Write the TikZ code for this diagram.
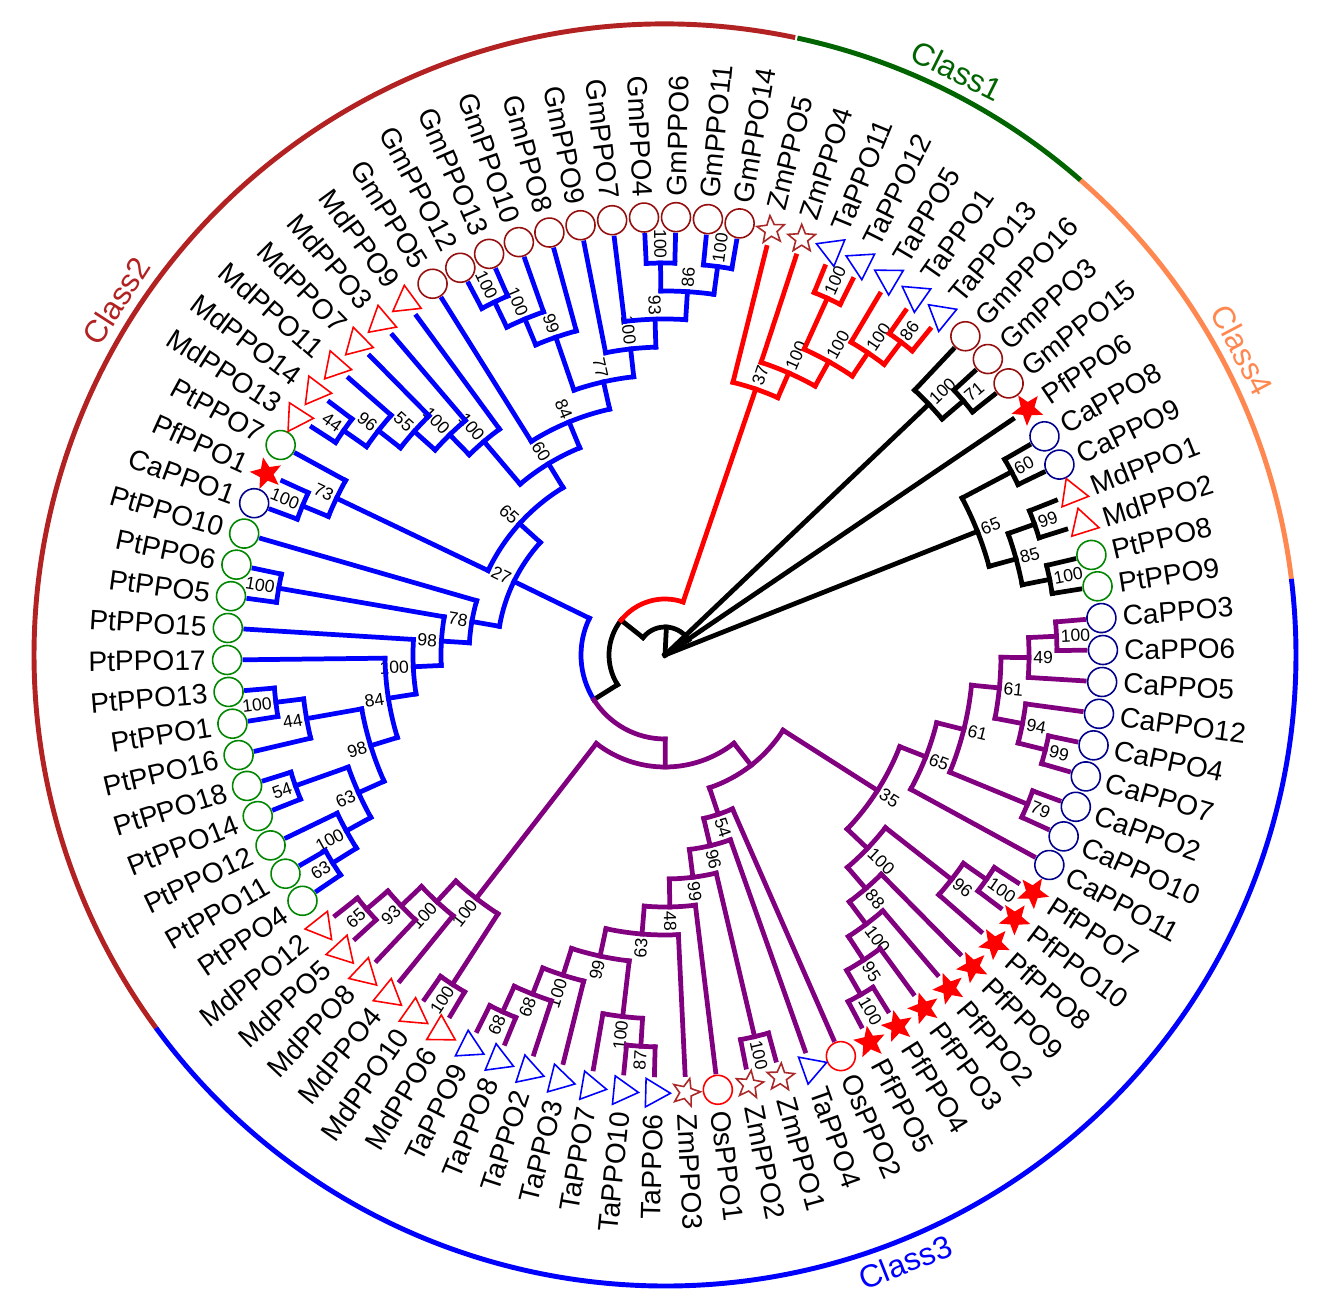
\documentclass[tikz,border=0pt]{standalone}
\usepackage{fontspec}
\setmainfont{Liberation Sans}
\usetikzlibrary{shapes.geometric}

\definecolor{gmred}{RGB}{150,15,15}
\definecolor{zmbrown}{RGB}{170,40,40}
\definecolor{ptgreen}{RGB}{0,135,0}
\definecolor{canavy}{RGB}{0,0,140}
\definecolor{cpurple}{RGB}{128,0,128}
\definecolor{firebrick}{RGB}{178,34,34}
\definecolor{darkgreen}{RGB}{0,100,0}
\definecolor{coral}{RGB}{255,135,80}

\tikzset{
  twig/.style={line width=2.7pt, line cap=rect},
  leaflab/.style={font=\fontsize{16}{19}\selectfont, text=black, inner sep=0pt},
  boot/.style={font=\fontsize{10}{12}\selectfont, text=black, inner sep=0pt},
  classlab/.style={font=\fontsize{18}{21}\selectfont, inner sep=0pt},
  circsym/.style={circle, minimum size=0.58cm, inner sep=0pt, line width=0.9pt},
  gmsym/.style={circsym, draw=gmred},
  ptsym/.style={circsym, draw=ptgreen},
  casym/.style={circsym, draw=canavy},
  ossym/.style={circsym, draw=red},
  trisym/.style={regular polygon, regular polygon sides=3, minimum size=0.66cm, inner sep=0pt, line width=0.9pt},
  tasym/.style={trisym, draw=blue},
  mdsym/.style={trisym, draw=red},
  starsym/.style={star, star points=5, star point ratio=2.3, minimum size=0.58cm, inner sep=0pt, line width=0.9pt},
  zmsym/.style={starsym, draw=zmbrown},
  pfsym/.style={starsym, draw=red, fill=red},
}

% positions are leaf slots: angle = 76 - 360/86 * slot
\newcommand\twigline[3]{\draw[twig] ({76-360/86*(#1)}:#2) -- ({76-360/86*(#1)}:#3);}
\newcommand\twigarc[3]{\draw[twig] ({76-360/86*(#2)}:#1) arc[start angle={76-360/86*(#2)}, end angle={76-360/86*(#3)}, radius=#1];}
\newcommand\bsnum[4]{%
  \pgfmathsetmacro\bsang{76-360/86*(#2)}%
  \pgfmathsetmacro\bsdist{#3+4}%
  \pgfmathtruncatemacro\bsside{cos(\bsang)>=0}%
  \ifnum\bsside=1
    \node[boot, anchor=west, rotate=\bsang] (#1) at (\bsang:\bsdist) {#4};
  \else
    \node[boot, anchor=east, rotate=\bsang+180] (#1) at (\bsang:\bsdist) {#4};
  \fi}
\newcommand\cladenode[7]{\twigline{#2}{#4}{#3}\twigarc{#3}{#5}{#6}\bsnum{#1}{#2}{#3}{#7}}
\newcommand\leafnode[4]{%
  \pgfmathsetmacro\leafang{76-360/86*#1}%
  \draw[twig] (\leafang:#4) -- (\leafang:420);
  \node[#3, rotate=\leafang] (s#1) at (\leafang:438) {};
  \pgfmathtruncatemacro\leafside{cos(\leafang)>=0}%
  \ifnum\leafside=1
    \node[leaflab, anchor=west, rotate=\leafang] (l#1) at (\leafang:459) {#2};
  \else
    \node[leaflab, anchor=east, rotate=\leafang+180] (l#1) at (\leafang:459) {#2};
  \fi}

\begin{document}
\begin{tikzpicture}[x=0.02cm, y=0.02cm]
  \useasboundingbox (-665,-657) rectangle (658,655);
  \fill[white] (-665,-657) rectangle (658,655);

  % root
  \begin{scope}[black]
    \twigline{83.35040283}{0}{28}
    \twigarc{28}{70.32580566}{96.375}
    \twigline{96.375}{0}{28}
    \twigline{70.32580566}{28}{56}
    \twigarc{56}{53.49536133}{70.32580566}
    \twigline{53.49536133}{56}{84}
  \end{scope}
  \begin{scope}[red]
    \twigarc{56}{70.32580566}{87.15625}
  \end{scope}
  \begin{scope}[blue]
    \twigarc{84}{67.357421875}{53.49536133}
  \end{scope}
  \begin{scope}[cpurple]
    \twigarc{84}{53.49536133}{39.63330078}
    \twigline{39.63330078}{84}{112}
    \twigarc{112}{30.5791015625}{48.6875}
    \twigline{30.5791015625}{112}{140}
    \twigarc{140}{25.921875}{35.236328125}
  \end{scope}

  % Class1
  \begin{scope}[red]
    \foreach \nn/\pp/\rad/\prad/\fa/\fb/\sv in {n37/1.15625/281/56/0/2.3125/37,
      n100a/2.3125/308/281/1/3.625/100, n100b/3.625/336/308/2.5/4.75/100,
      n100k/2.5/392/336/2/3/100, n100d/4.75/364/336/4/5.5/100, n86/5.5/392/364/5/6/86}
      {\cladenode{\nn}{\pp}{\rad}{\prad}{\fa}{\fb}{\sv}}
    \foreach \ix/\nm/\sym/\prad in {0/ZmPPO5/zmsym/281, 1/ZmPPO4/zmsym/308,
      2/TaPPO11/tasym/392, 3/TaPPO12/tasym/392, 4/TaPPO5/tasym/364,
      5/TaPPO1/tasym/392, 6/TaPPO13/tasym/392}
      {\leafnode{\ix}{\nm}{\sym}{\prad}}
  \end{scope}

  % Class4
  \begin{scope}[black]
    \foreach \nn/\pp/\rad/\prad/\fa/\fb/\sv in {n100gm/7.75/364/0/7/8.5/100,
      n71/8.5/392/364/8/9/71, n65k/13/336/0/11.5/14.5/65, n60k/11.5/392/336/11/12/60,
      n85/14.5/364/336/13.5/15.5/85, n99k/13.5/392/364/13/14/99, n100pk/15.5/392/364/15/16/100}
      {\cladenode{\nn}{\pp}{\rad}{\prad}{\fa}{\fb}{\sv}}
    \foreach \ix/\nm/\sym/\prad in {7/GmPPO16/gmsym/364, 8/GmPPO3/gmsym/392,
      9/GmPPO15/gmsym/392, 10/PfPPO6/pfsym/0, 11/CaPPO8/casym/392, 12/CaPPO9/casym/392,
      13/MdPPO1/mdsym/392, 14/MdPPO2/mdsym/392, 15/PtPPO8/ptsym/392, 16/PtPPO9/ptsym/392}
      {\leafnode{\ix}{\nm}{\sym}{\prad}}
  \end{scope}

  % Class3
  \begin{scope}[cpurple]
    \foreach \nn/\pp/\rad/\prad/\fa/\fb/\sv in {n35/25.921875/252/140/23.25/28.59375/35,
      n65c/23.25/280/252/21.5/25/65, n61b/21.5/308/280/19.5/23.5/61,
      n61a/19.5/336/308/18.25/20.75/61, n49/18.25/364/336/17.5/19/49,
      n100c1/17.5/392/364/17/18/100, n94/20.75/364/336/20/21.5/94,
      n99c/21.5/392/364/21/22/99, n79/23.5/392/308/23/24/79,
      n100p3/28.59375/280/252/27.25/29.9375/100, n96p/27.25/364/280/26.5/28/96,
      n100p4/26.5/392/364/26/27/100, n88/29.9375/308/280/29/30.875/88,
      n100p2/30.875/336/308/30/31.75/100, n95/31.75/364/336/31/32.5/95,
      n100p1/32.5/392/364/32/33/100, n54t/35.236328125/168/140/34/36.47265625/54,
      n96t/36.47265625/196/168/35/37.9453125/96, n99t/37.9453125/224/196/36.5/39.390625/99,
      n100z/36.5/392/224/36/37/100, n48/39.390625/252/224/38/40.78125/48,
      n63t/40.78125/280/252/39/42.5625/63, n99t2/42.5625/308/280/41.25/43.875/99,
      n100t2/41.25/364/308/40.5/42/100, n87/40.5/392/364/40/41/87,
      n100t/43.875/336/308/43/44.75/100, n68b/44.75/364/336/44/45.5/68,
      n68a/45.5/392/364/45/46/68, n100m2/48.6875/308/112/47.5/49.875/100,
      n100m3/47.5/392/308/47/48/100, n100m1/49.875/336/308/49/50.75/100,
      n93m/50.75/364/336/50/51.5/93, n65m/51.5/392/364/51/52/65}
      {\cladenode{\nn}{\pp}{\rad}{\prad}{\fa}{\fb}{\sv}}
    \foreach \ix/\nm/\sym/\prad in {17/CaPPO3/casym/392, 18/CaPPO6/casym/392,
      19/CaPPO5/casym/364, 20/CaPPO12/casym/364, 21/CaPPO4/casym/392, 22/CaPPO7/casym/392,
      23/CaPPO2/casym/392, 24/CaPPO10/casym/392, 25/CaPPO11/casym/280,
      26/PfPPO7/pfsym/392, 27/PfPPO10/pfsym/392, 28/PfPPO8/pfsym/364, 29/PfPPO9/pfsym/308,
      30/PfPPO2/pfsym/336, 31/PfPPO3/pfsym/364, 32/PfPPO4/pfsym/392, 33/PfPPO5/pfsym/392,
      34/OsPPO2/ossym/168, 35/TaPPO4/tasym/196, 36/ZmPPO1/zmsym/392, 37/ZmPPO2/zmsym/392,
      38/OsPPO1/ossym/252, 39/ZmPPO3/zmsym/280, 40/TaPPO6/tasym/392, 41/TaPPO10/tasym/392,
      42/TaPPO7/tasym/364, 43/TaPPO3/tasym/336, 44/TaPPO2/tasym/364, 45/TaPPO8/tasym/392,
      46/TaPPO9/tasym/392, 47/MdPPO6/mdsym/392, 48/MdPPO10/mdsym/392, 49/MdPPO4/mdsym/336,
      50/MdPPO8/mdsym/364, 51/MdPPO5/mdsym/392, 52/MdPPO12/mdsym/392}
      {\leafnode{\ix}{\nm}{\sym}{\prad}}
  \end{scope}

  % Class2
  \begin{scope}[blue]
    \foreach \nn/\pp/\rad/\prad/\fa/\fb/\sv in {c2/67.357421875/168/84/63.50390625/71.2109375/27,
      n78/63.50390625/196/168/62.0078125/65/78, n98/62.0078125/224/196/60.515625/63.5/98,
      n100a2/63.5/392/224/63/64/100, n100c/60.515625/252/224/59.03125/62/100,
      n84/59.03125/280/252/57.0625/61/84, n98b/57.0625/308/280/55.375/58.75/98,
      n44p/58.75/364/308/58/59.5/44, n100d2/59.5/392/364/59/60/100,
      n63b/55.375/336/308/54.25/56.5/63, n54/56.5/392/336/56/57/54,
      n100e/54.25/364/336/53.5/55/100, n63/53.5/392/364/53/54/63,
      n65/71.2109375/196/168/67.25/75.171875/65, n73/67.25/364/196/66.5/68/73,
      n100b2/66.5/392/364/66/67/100, n60/75.171875/224/196/73.03125/77.3125/60,
      n100md2/73.03125/280/224/72.0625/74/100, n100md1/72.0625/308/280/71.125/73/100,
      n55m/71.125/336/308/70.25/72/55, n96m/70.25/364/336/69.5/71/96,
      n44m/69.5/392/364/69/70/44, n84g/77.3125/252/224/75/79.625/84,
      n77/79.625/280/252/78.125/81.125/77, n99g/78.125/336/280/77.25/79/99,
      n100g2/77.25/364/336/76.5/78/100, n100g1/76.5/392/364/76/77/100,
      n100g5/81.125/308/280/80/82.25/100, n93/82.25/336/308/81/83.5/93,
      n86g/83.5/364/336/82.5/84.5/86, n100g3/82.5/392/364/82/83/100,
      n100g4/84.5/392/364/84/85/100}
      {\cladenode{\nn}{\pp}{\rad}{\prad}{\fa}{\fb}{\sv}}
    \foreach \ix/\nm/\sym/\prad in {53/PtPPO4/ptsym/392, 54/PtPPO11/ptsym/392,
      55/PtPPO12/ptsym/364, 56/PtPPO14/ptsym/392, 57/PtPPO18/ptsym/392, 58/PtPPO16/ptsym/364,
      59/PtPPO1/ptsym/392, 60/PtPPO13/ptsym/392, 61/PtPPO17/ptsym/280, 62/PtPPO15/ptsym/252,
      63/PtPPO5/ptsym/392, 64/PtPPO6/ptsym/392, 65/PtPPO10/ptsym/196, 66/CaPPO1/casym/392,
      67/PfPPO1/pfsym/392, 68/PtPPO7/ptsym/364, 69/MdPPO13/mdsym/392, 70/MdPPO14/mdsym/392,
      71/MdPPO11/mdsym/364, 72/MdPPO7/mdsym/336, 73/MdPPO3/mdsym/308, 74/MdPPO9/mdsym/280,
      75/GmPPO5/gmsym/252, 76/GmPPO12/gmsym/392, 77/GmPPO13/gmsym/392, 78/GmPPO10/gmsym/364,
      79/GmPPO8/gmsym/336, 80/GmPPO9/gmsym/308, 81/GmPPO7/gmsym/336, 82/GmPPO4/gmsym/392,
      83/GmPPO6/gmsym/392, 84/GmPPO11/gmsym/392, 85/GmPPO14/gmsym/392}
      {\leafnode{\ix}{\nm}{\sym}{\prad}}
  \end{scope}

  % class ring
  \draw[line width=2.8pt, firebrick] (78.09:631) arc[start angle=78.09, end angle=216.23, radius=631];
  \draw[line width=2.8pt, darkgreen] (48.79:631) arc[start angle=48.79, end angle=77.89, radius=631];
  \draw[line width=2.8pt, coral] (6.93:631) arc[start angle=6.93, end angle=48.79, radius=631];
  \draw[line width=2.8pt, blue] (-143.77:631) arc[start angle=-143.77, end angle=6.93, radius=631];
  \node[classlab, text=darkgreen, rotate=-26.56] (cls1) at (63.44:653) {Class1};
  \node[classlab, text=coral, rotate=-62.14] (cls4) at (27.86:653) {Class4};
  \node[classlab, text=blue, rotate=21.6] (cls3) at (-68.4:653) {Class3};
  \node[classlab, text=firebrick, rotate=57.16] (cls2) at (147.16:653) {Class2};
\end{tikzpicture}
\end{document}
